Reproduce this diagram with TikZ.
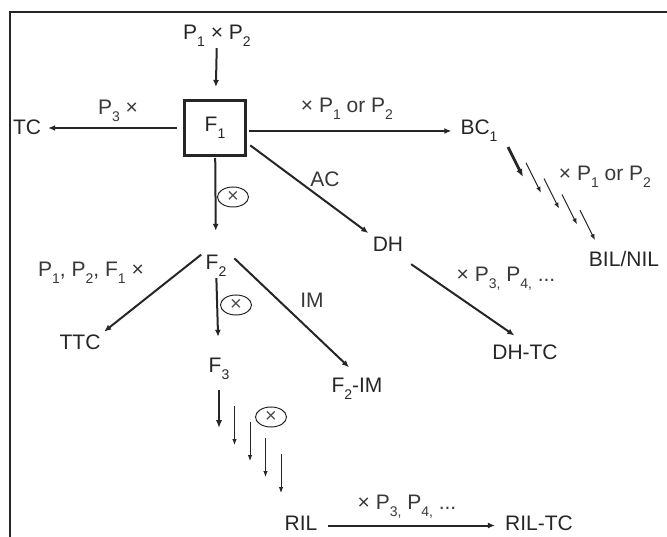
\documentclass[tikz,border=0pt]{standalone}
\usepackage{fontspec}
\setmainfont{Liberation Sans}
\usetikzlibrary{arrows.meta, shapes.geometric}
\newcommand{\sbs}[1]{\raisebox{-7pt}{\fontsize{14}{14}\selectfont #1}}

\begin{document}
\begin{tikzpicture}[
  x=1pt, y=-1pt,
  gen/.style={anchor=base, font=\fontsize{21}{24}\selectfont, text=black!85, inner sep=2pt, text height=15pt, text depth=6pt},
  lab/.style={gen, text=black!78},
  parent/.style={draw=black!85, line width=3pt, minimum width=61pt, minimum height=55pt, inner sep=0pt, font=\fontsize{21}{24}\selectfont, text=black!85},
  selfing/.style={draw=black!85, ellipse, line width=1pt, minimum width=31pt, minimum height=20pt, inner sep=0pt, font=\fontsize{20}{20}\selectfont, text=black!70},
  arrow/.style={-{Latex[length=7pt, width=6pt]}, line width=2pt, draw=black!85},
  bold arrow/.style={-{Latex[length=8pt, width=6.5pt]}, line width=2.8pt, draw=black!85},
  thin arrow/.style={-{Latex[length=6pt, width=4.5pt]}, line width=1pt, draw=black!85}
]
\useasboundingbox (0,0) rectangle (667,537);
\draw[line width=1.5pt, black!85] (10,537) |- (667,12);

% generations
\node[gen] (p12) at (217,40) {P\sbs{1} × P\sbs{2}};
\node[parent] (f1) at (215,128) {F\sbs{1}};
\node[gen] (tc) at (27,135) {TC};
\node[gen] (bc1) at (479,135) {BC\sbs{1}};
\node[gen] (dh) at (388,252) {DH};
\node[gen] (bilnil) at (624,267) {BIL/NIL};
\node[gen] (f2) at (216,270) {F\sbs{2}};
\node[gen] (ttc) at (80,350) {TTC};
\node[gen] (dhtc) at (525,360) {DH-TC};
\node[gen] (f3) at (219,373) {F\sbs{3}};
\node[gen] (f2im) at (357,392) {F\sbs{2}-IM};
\node[gen] (ril) at (301,530) {RIL};
\node[gen] (riltc) at (539,530) {RIL-TC};

% selfing marks
\node[selfing] (self1) at (233,197) {×};
\node[selfing] (self2) at (236,305) {×};
\node[selfing] (self3) at (271,417) {×};

% labels
\node[lab] (lp3) at (118,115) {P\sbs{3} ×};
\node[lab] (lbc) at (347,113) {× P\sbs{1} or P\sbs{2}};
\node[lab] (lac) at (325,187) {AC};
\node[lab] (lbil) at (605,181) {× P\sbs{1} or P\sbs{2}};
\node[lab] (lf2) at (91,277) {P\sbs{1}, P\sbs{2}, F\sbs{1} ×};
\node[lab] (ldh) at (506,282) {× P\sbs{3,} P\sbs{4,} ...};
\node[lab] (lim) at (312,308) {IM};
\node[lab] (lril) at (407,509) {× P\sbs{3,} P\sbs{4,} ...};

% crosses
\draw[arrow, shorten >=12pt] (p12) -- (f1);
\draw[arrow, shorten <=6pt, shorten >=5pt] (f1.west) -- (f1.west -| tc.east);
\draw[arrow, shorten <=2pt, shorten >=7pt] ([yshift=-3pt]f1.east) -- ([yshift=-3pt]f1.east -| bc1.west);
\draw[arrow, shorten <=4pt, shorten >=3pt] (f1.-25) -- (dh.north west);
\draw[arrow, shorten <=1pt, shorten >=22pt] (f1) -- (f2);
\draw[arrow, shorten <=3pt, shorten >=2pt] (f2.north west) -- (ttc.north east);
\draw[arrow, shorten <=8pt, shorten >=11pt] (f2.north east) -- (f2im.north);
\draw[arrow, shorten >=19pt] (f2) -- (f3);
\draw[arrow, shorten <=7pt, shorten >=13pt] (dh.south east) -- (dhtc.north);
\draw[arrow, shorten <=8pt, shorten >=8pt] (ril) -- (riltc);

% repeated backcrosses and selfing
\coordinate (bccas) at (508,147);
\draw[bold arrow] (bccas) -- ++(15,30);
\foreach \i in {1,...,4}
  \draw[thin arrow] ([shift={(18*\i,15.8*\i)}]bccas) -- ++(15,30);
\coordinate (f3cas) at (219,390);
\draw[bold arrow] (f3cas) -- ++(0,38);
\foreach \i in {1,...,4}
  \draw[thin arrow] ([shift={(15.5*\i,16*\i)}]f3cas) -- ++(0,39);
\end{tikzpicture}
\end{document}
